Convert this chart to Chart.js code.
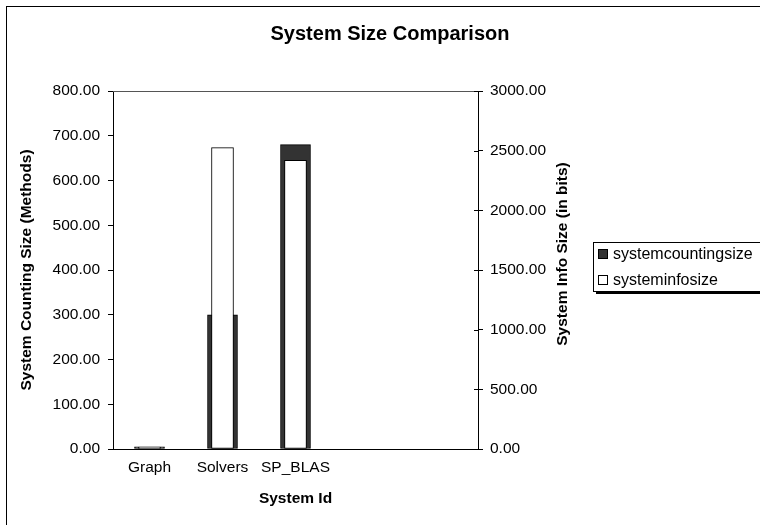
<!DOCTYPE html>
<html>
<head>
<meta charset="utf-8">
<script src="https://cdn.jsdelivr.net/npm/chart.js@4"></script>
<style>
  body { margin: 0; background: #fff; }
  #chart { display: block; }
</style>
</head>
<body>
<canvas id="chart" width="760" height="525"></canvas>
<script>
// data
var categories = ["Graph", "Solvers", "SP_BLAS", "", ""];
var countingSize = [5, 300, 680, null, null];      // left axis, methods
var infoSize = [16, 2525, 2420, null, null];        // right axis, bits
var seriesNames = ["systemcountingsize", "systeminfosize"];
var chartTitle = "System Size Comparison";
var leftTitle = "System Counting Size (Methods)";
var rightTitle = "System Info Size (in bits)";
var xTitle = "System Id";

var FONT = '"Liberation Sans", Arial, sans-serif';
Chart.defaults.color = "#000";
Chart.defaults.font.family = FONT;

// frame, titles and legend are drawn by hand, excel style
var decor = {
  id: "decor",
  beforeDraw: function (chart) {
    var c = chart.ctx;
    c.save();
    c.fillStyle = "#fff";
    c.fillRect(0, 0, chart.width, chart.height);
    c.strokeStyle = "#000";
    c.lineWidth = 1;
    c.strokeRect(6.5, 6.5, 900, 700);
    c.restore();
  },
  afterDraw: function (chart) {
    var c = chart.ctx;
    var a = chart.chartArea;
    c.save();
    // top edge of plot area
    c.strokeStyle = "#555";
    c.beginPath();
    c.moveTo(a.left, a.top + 0.5);
    c.lineTo(a.right, a.top + 0.5);
    c.stroke();
    // right axis ticks cross the axis line
    var y2 = chart.scales.y2;
    c.strokeStyle = "#000";
    y2.ticks.forEach(function (t) {
      var py = Math.round(y2.getPixelForValue(t.value)) + 0.5;
      c.beginPath();
      c.moveTo(a.right - 4, py);
      c.lineTo(a.right, py);
      c.stroke();
    });

    c.fillStyle = "#000";
    c.textAlign = "center";
    c.textBaseline = "middle";
    c.font = "bold 20px " + FONT;
    c.fillText(chartTitle, 390, 34);
    c.font = "bold 15.5px " + FONT;
    c.fillText(xTitle, (a.left + a.right) / 2, 499);

    c.save();
    c.translate(27, (a.top + a.bottom) / 2);
    c.rotate(-Math.PI / 2);
    c.fillText(leftTitle, 0, 0);
    c.restore();

    c.save();
    c.translate(563, 254);
    c.rotate(-Math.PI / 2);
    c.fillText(rightTitle, 0, 0);
    c.restore();

    // legend box with shadow
    var lx = 593, ly = 242, lw = 200, lh = 49;
    c.fillStyle = "#000";
    c.fillRect(lx + 3, ly + lh, lw, 3);
    c.fillStyle = "#fff";
    c.fillRect(lx, ly, lw, lh);
    c.strokeStyle = "#000";
    c.strokeRect(lx + 0.5, ly + 0.5, lw, lh);
    var ds = chart.data.datasets;
    c.font = "16px " + FONT;
    c.textAlign = "left";
    for (var i = 0; i < ds.length; i++) {
      var my = ly + 7 + i * 26;
      c.fillStyle = ds[i].backgroundColor;
      c.fillRect(lx + 5, my, 10, 10);
      c.strokeStyle = "#000";
      c.strokeRect(lx + 5.5, my + 0.5, 9, 9);
      c.fillStyle = "#000";
      c.fillText(ds[i].label, lx + 20, my + 5.5);
    }
    c.restore();
  }
};

new Chart(document.getElementById("chart"), {
  type: "bar",
  data: {
    labels: categories,
    datasets: [
      {
        label: seriesNames[0],
        data: countingSize,
        yAxisID: "y",
        backgroundColor: "#333333",
        borderColor: "#000",
        borderWidth: 1,
        borderSkipped: false,
        barThickness: 30,
        grouped: false,
        order: 2
      },
      {
        label: seriesNames[1],
        data: infoSize,
        yAxisID: "y2",
        backgroundColor: "#ffffff",
        borderColor: "#000",
        borderWidth: 1,
        borderSkipped: false,
        barThickness: 22,
        grouped: false,
        order: 1
      }
    ]
  },
  options: {
    responsive: false,
    animation: false,
    layout: { padding: { left: 0, top: 91, right: 182, bottom: 0 } },
    plugins: { legend: { display: false }, tooltip: { enabled: false } },
    scales: {
      x: {
        grid: { display: false, drawTicks: false },
        border: { color: "#000", width: 1 },
        ticks: { font: { size: 15.5 }, padding: 9, maxRotation: 0, autoSkip: false },
        afterFit: function (s) { s.height = 76; }
      },
      y: {
        position: "left",
        min: 0, max: 800,
        grid: { drawOnChartArea: false, tickLength: 5, color: "#000" },
        border: { color: "#000", width: 1 },
        ticks: {
          stepSize: 100, padding: 8, font: { size: 15.5 },
          callback: function (v) { return v.toFixed(2); }
        },
        afterFit: function (s) { s.width = 113; }
      },
      y2: {
        position: "right",
        min: 0, max: 3000,
        grid: { drawOnChartArea: false, tickLength: 5, color: "#000" },
        border: { color: "#000", width: 1 },
        ticks: {
          stepSize: 500, padding: 7, font: { size: 15.5 },
          callback: function (v) { return v.toFixed(2); }
        },
        afterFit: function (s) { s.width = 100; }
      }
    }
  },
  plugins: [decor]
});
</script>
</body>
</html>
